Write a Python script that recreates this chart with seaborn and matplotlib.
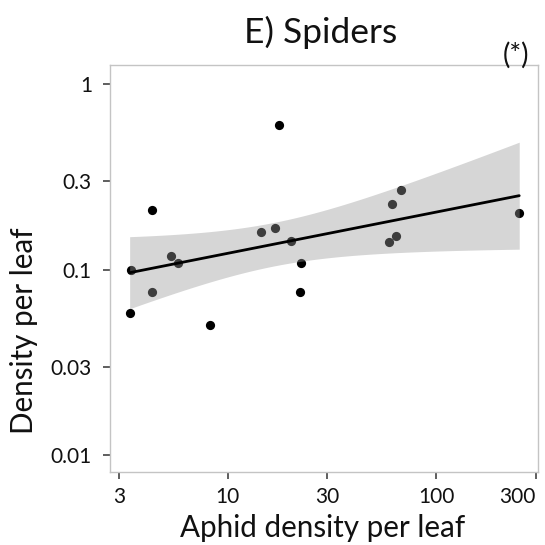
import numpy as np
import pandas as pd
import matplotlib
matplotlib.use("Agg")
import matplotlib.pyplot as plt
import seaborn as sns

# Aphid density per leaf (x) and spider density per leaf (y), one value per plot
aphid_density = [17.5, 4.31, 14.5, 16.8, 20.0, 22.4, 22.2, 5.35, 5.78,
                 3.42, 4.34, 3.38, 8.23, 67.5, 61.5, 64.1, 59.5, 250.0]
spider_density = [0.603, 0.209, 0.159, 0.168, 0.142, 0.109, 0.0754, 0.118, 0.108,
                  0.100, 0.0754, 0.0585, 0.050, 0.268, 0.225, 0.151, 0.141, 0.201]

x_ticks = [3, 10, 30, 100, 300]
x_tick_labels = ["3", "10", "30", "100", "300"]
y_ticks = [0.01, 0.03, 0.1, 0.3, 1]
y_tick_labels = ["0.01", "0.03", "0.1", "0.3", "1"]

title = "E) Spiders"
significance = "(*)"
x_label = "Aphid density per leaf"
y_label = "Density per leaf"

df = pd.DataFrame({"aphids": aphid_density, "spiders": spider_density})

# Linear fit on log10-log10 scale with a 95% t-based confidence band
lx = np.log10(df["aphids"].to_numpy())
ly = np.log10(df["spiders"].to_numpy())
n = len(lx)
slope, intercept = np.polyfit(lx, ly, 1)
resid = ly - (intercept + slope * lx)
s = np.sqrt(np.sum(resid ** 2) / (n - 2))
sxx = np.sum((lx - lx.mean()) ** 2)
t_crit = 2.1199  # t(0.975, df=16)
grid = np.linspace(lx.min(), lx.max(), 120)
fit = intercept + slope * grid
half = t_crit * s * np.sqrt(1.0 / n + (grid - lx.mean()) ** 2 / sxx)
fit_df = pd.DataFrame({"aphids": 10 ** grid, "spiders": 10 ** fit})

sns.set_theme(style="white")
plt.rcParams["font.family"] = ["Lato", "DejaVu Sans"]

fig = plt.figure(figsize=(5.45, 5.45), dpi=100)
ax = fig.add_axes([110 / 545, 1 - 472 / 545, 428 / 545, 407 / 545])

sns.scatterplot(data=df, x="aphids", y="spiders", ax=ax, color="black",
                s=44, linewidth=0, zorder=2, legend=False)
ax.fill_between(10 ** grid, 10 ** (fit - half), 10 ** (fit + half),
                color="#999999", alpha=0.4, linewidth=0, zorder=3)
sns.lineplot(data=fit_df, x="aphids", y="spiders", ax=ax, color="black",
             linewidth=2.0, zorder=4)

ax.set_xscale("log")
ax.set_yscale("log")
ax.set_xlim(2.72, 307.6)
ax.set_ylim(0.0081, 1.266)
ax.set_xticks(x_ticks)
ax.set_xticklabels(x_tick_labels)
ax.set_yticks(y_ticks)
ax.set_yticklabels(y_tick_labels)
ax.minorticks_off()
ax.tick_params(axis="x", which="major", pad=6)
ax.tick_params(axis="y", which="major", pad=8)
ax.tick_params(axis="both", which="major", direction="out", length=5, width=1.1,
               color="#333333", labelsize=15, labelcolor="#111111",
               bottom=True, left=True)
# keep the last x label inside the figure edge
ax.get_xticklabels()[-1].set_horizontalalignment("right")
ax.set_xlabel("")
ax.set_ylabel("")
for side in ax.spines.values():
    side.set_color("#c4c4c4")
    side.set_linewidth(1.0)

fig.text(321 / 545, 1 - 43 / 545, title, ha="center", va="baseline",
         fontsize=25.5, color="#111111")
fig.text(529 / 545, 1 - 55 / 545, significance, ha="right", va="center",
         fontsize=20, color="#111111")
fig.text(323 / 545, 1 - 537 / 545, x_label, ha="center", va="baseline",
         fontsize=21.3, color="#111111")
fig.text(24 / 545, 1 - 331 / 545, y_label, ha="center", va="center",
         rotation=90, fontsize=21.3, color="#111111")

fig.savefig("out.png", dpi=100, facecolor="white")
